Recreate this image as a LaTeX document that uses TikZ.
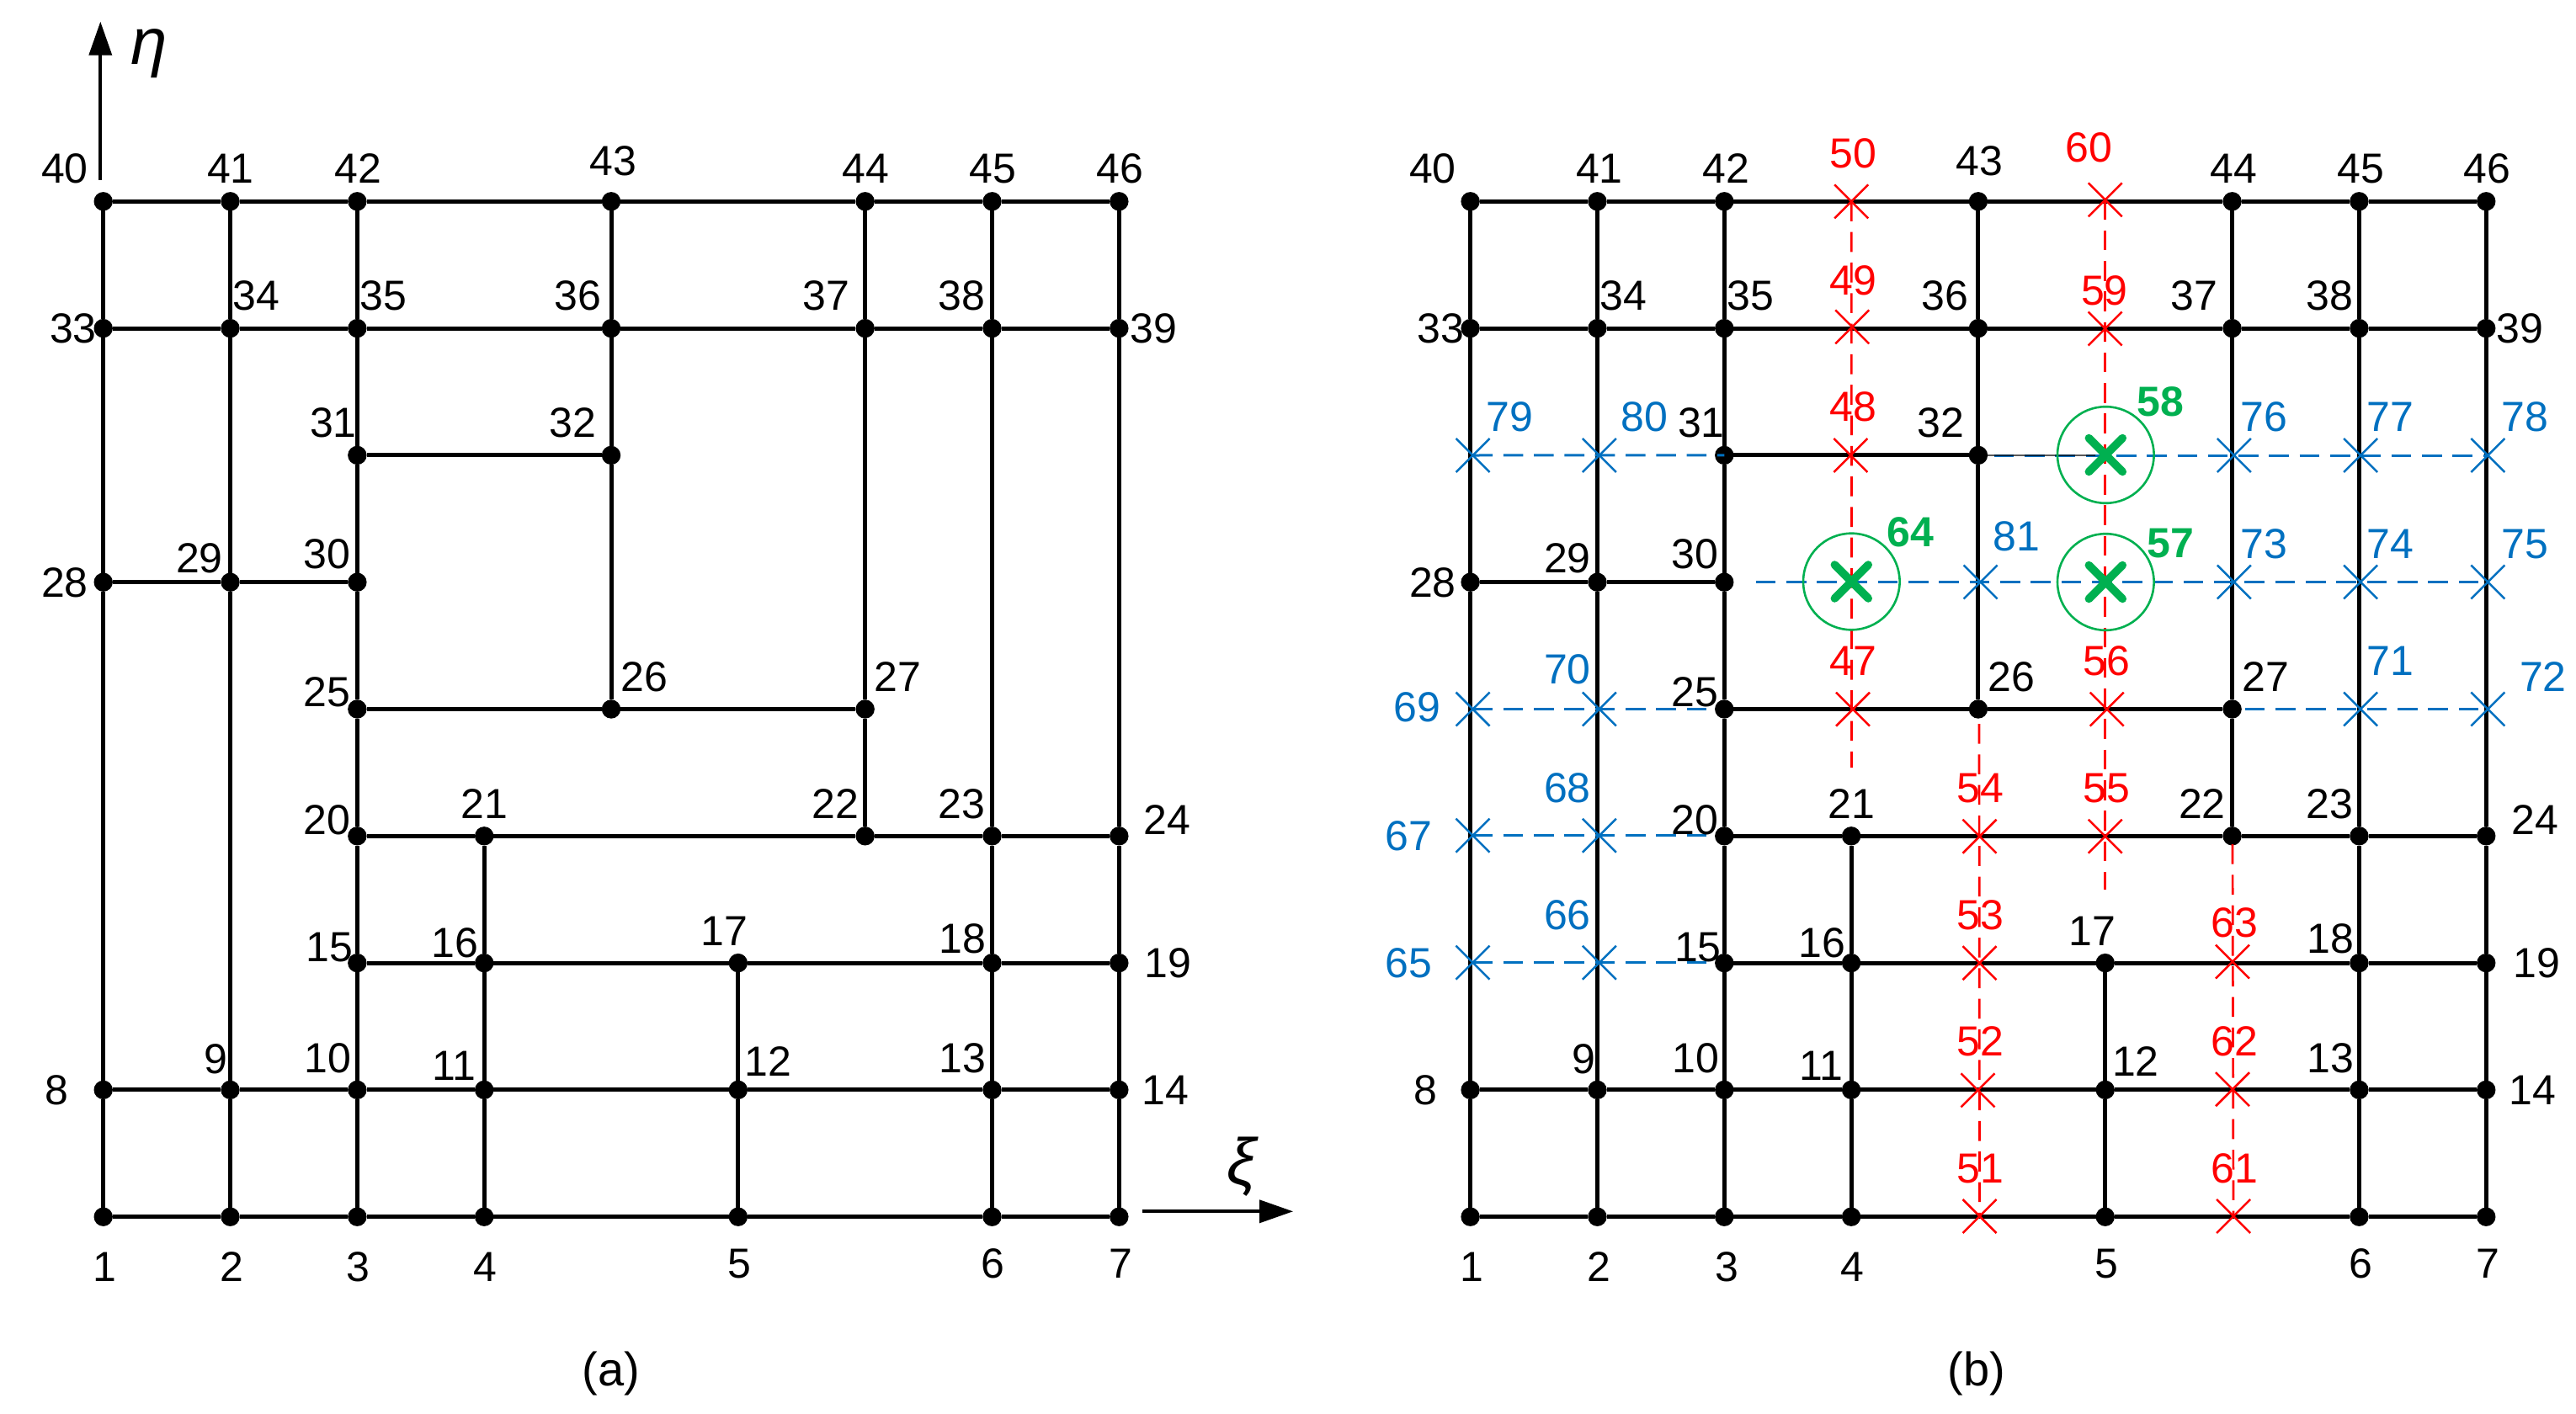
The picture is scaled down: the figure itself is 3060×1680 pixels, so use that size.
\documentclass[tikz,border=0pt]{standalone}
\usepackage{fontspec}
\setmainfont{Liberation Sans}
\usetikzlibrary{arrows.meta,shapes.misc}
\definecolor{nblue}{HTML}{0070C0}
\definecolor{ngreen}{HTML}{00B050}
\definecolor{nred}{HTML}{FF0000}
\tikzset{
  gridnode/.style={circle,fill=black,inner sep=0pt,outer sep=0pt,minimum size=22.4pt},
  edgeline/.style={draw=black,line width=5pt},
  thinline/.style={draw=black,line width=1.2pt},
  labtext/.style={font=\fontsize{50}{50}\selectfont,inner sep=0pt,outer sep=0pt,text height=36pt,text depth=0pt,anchor=center,xshift=2pt,yshift=-1.5pt},
  redlab/.style={labtext,text=nred},
  bluelab/.style={labtext,text=nblue},
  greenlab/.style={labtext,text=ngreen,font=\fontsize{50}{50}\selectfont\bfseries},
  capt/.style={font=\fontsize{56}{60}\selectfont,inner sep=0pt,outer sep=0pt,anchor=center},
  axlab/.style={font=\fontsize{78}{80}\selectfont\itshape,inner sep=0pt,outer sep=0pt,anchor=center},
  redcross/.style={cross out,draw=nred,line width=2.5pt,inner sep=0pt,outer sep=0pt,minimum size=40pt},
  bluecross/.style={cross out,draw=nblue,line width=2.5pt,inner sep=0pt,outer sep=0pt,minimum size=40pt},
  greencross/.style={cross out,draw=ngreen,line width=9.5pt,line cap=round,inner sep=0pt,outer sep=0pt,minimum size=40pt},
  greenring/.style={circle,draw=ngreen,line width=2.6pt,inner sep=0pt,outer sep=0pt,minimum size=114.6pt},
  reddash/.style={draw=nred,line width=2.7pt,dash pattern=on 23.6pt off 12.7pt},
  bluedash/.style={draw=nblue,line width=3pt,dash pattern=on 23.6pt off 12.7pt},
  axisarrow/.style={draw=black,line width=3.7pt,-{Triangle[length=40pt,width=27pt]}},
}
\begin{document}
\begin{tikzpicture}[x=1pt,y=-1pt]
\useasboundingbox (0,0) rectangle (3060,1680);
\fill[white] (0,0) rectangle (3060,1680);
% grid nodes and edges of both panels
\foreach \pp/\xx in {a/122.7,b/1746.6}{
  \foreach \nn/\cc/\rr in {1/0/8,2/1/8,3/2/8,4/3/8,5/5/8,6/7/8,7/8/8,
    8/0/7,9/1/7,10/2/7,11/3/7,12/5/7,13/7/7,14/8/7,
    15/2/6,16/3/6,17/5/6,18/7/6,19/8/6,
    20/2/5,21/3/5,22/6/5,23/7/5,24/8/5,
    25/2/4,26/4/4,27/6/4,
    28/0/3,29/1/3,30/2/3,
    31/2/2,32/4/2,
    33/0/1,34/1/1,35/2/1,36/4/1,37/6/1,38/7/1,39/8/1,
    40/0/0,41/1/0,42/2/0,43/4/0,44/6/0,45/7/0,46/8/0}{
    \node[gridnode] (\pp\nn) at ({\xx+150.83*\cc},{239.3+150.8*\rr}) {};
  }
  \draw[edgeline] (\pp1)--(\pp2)--(\pp3)--(\pp4)--(\pp5)--(\pp6)--(\pp7);
  \draw[edgeline] (\pp8)--(\pp9)--(\pp10)--(\pp11)--(\pp12)--(\pp13)--(\pp14);
  \draw[edgeline] (\pp15)--(\pp16)--(\pp17)--(\pp18)--(\pp19);
  \draw[edgeline] (\pp20)--(\pp21)--(\pp22)--(\pp23)--(\pp24);
  \draw[edgeline] (\pp25)--(\pp26)--(\pp27);
  \draw[edgeline] (\pp28)--(\pp29)--(\pp30);
  \draw[edgeline] (\pp31)--(\pp32);
  \draw[edgeline] (\pp33)--(\pp34)--(\pp35)--(\pp36)--(\pp37)--(\pp38)--(\pp39);
  \draw[edgeline] (\pp40)--(\pp41)--(\pp42)--(\pp43)--(\pp44)--(\pp45)--(\pp46);
  \draw[edgeline] (\pp1)--(\pp8)--(\pp28)--(\pp33)--(\pp40);
  \draw[edgeline] (\pp2)--(\pp9)--(\pp29)--(\pp34)--(\pp41);
  \draw[edgeline] (\pp3)--(\pp10)--(\pp15)--(\pp20)--(\pp25)--(\pp30)--(\pp31)--(\pp35)--(\pp42);
  \draw[edgeline] (\pp4)--(\pp11)--(\pp16)--(\pp21);
  \draw[edgeline] (\pp26)--(\pp32)--(\pp36)--(\pp43);
  \draw[edgeline] (\pp5)--(\pp12)--(\pp17);
  \draw[edgeline] (\pp22)--(\pp27)--(\pp37)--(\pp44);
  \draw[edgeline] (\pp6)--(\pp13)--(\pp18)--(\pp23)--(\pp38)--(\pp45);
  \draw[edgeline] (\pp7)--(\pp14)--(\pp19)--(\pp24)--(\pp39)--(\pp46);
}
% axes
\coordinate (etaS) at (119.3,214);
\coordinate (etaE) at (119.3,25.7);
\coordinate (xiS) at (1356.7,1439.3);
\coordinate (xiE) at (1536,1439.3);
\draw[axisarrow] (etaS)--(etaE);
\draw[axisarrow] (xiS)--(xiE);
\node[axlab] (etaL) at (177,63.5) {η};
\node[axlab] (xiL) at (1475,1386) {ξ};
% red and blue crosses
\foreach \nn/\X/\Y in {50/2199.3/239.4,60/2500.7/237.3,49/2200.2/388.3,59/2500.7/390.5,48/2198.3/541,
  47/2201/842.7,56/2502.7/842.7,54/2351.5/993.7,55/2500.7/993.7,53/2351.5/1144.2,63/2652/1142.6,
  52/2349.5/1295.3,62/2652/1294.2,51/2351.5/1445,61/2653/1445}{
  \node[redcross] (b\nn) at (\X,\Y) {};
}
\foreach \nn/\X/\Y in {79/1749.5/541,80/1899.8/541,76/2653.9/541,77/2804.1/541,78/2955.3/541,
  81/2352.5/691.5,73/2653.9/691.5,74/2804.1/691.5,75/2955.3/691.5,
  69/1749.5/842.5,70/1899.8/842.5,71/2804.1/842.5,72/2955.3/842.5,
  67/1749.5/992.7,68/1899.8/992.7,65/1749.5/1143.7,66/1899.8/1143.7}{
  \node[bluecross] (b\nn) at (\X,\Y) {};
}
% free ends of dashed connectors
\coordinate (redA) at (2199.5,912);
\coordinate (redB) at (2500.7,1057);
\coordinate (redC) at (2351,860);
\coordinate (redD) at (2652,1003);
\coordinate (bluA) at (2368.7,541);
\coordinate (bluB) at (2085.6,691.5);
\coordinate (bluC) at (2666.6,842.5);
\coordinate (bluD) at (2027.6,842.5);
\coordinate (bluE) at (2027.6,992.7);
\coordinate (bluF) at (2027.6,1143.7);
\coordinate (blkA) at (2489,541);
\draw[reddash] (b50.center)--(redA);
\draw[reddash] (b60.center)--(redB);
\draw[reddash] (redC)--(b51.center);
\draw[reddash] (redD)--(b61.center);
\draw[bluedash] (b79.center)--(b31.center);
\draw[bluedash] (bluA)--(b78.center);
\draw[thinline] (b32)--(blkA);
\draw[bluedash] (bluB)--(b75.center);
\draw[bluedash] (b69.center)--(bluD);
\draw[bluedash] (bluC)--(b72.center);
\draw[bluedash] (b67.center)--(bluE);
\draw[bluedash] (b65.center)--(bluF);
% green markers
\foreach \nn/\X/\Y in {58/2501.3/540.5,57/2501.3/691.5,64/2199.3/691}{
  \node[greenring] (r\nn) at (\X,\Y) {};
  \node[greencross] (b\nn) at (\X,\Y) {};
}
% black labels, panel a
\foreach \nn/\X/\Y in {40/75/198,41/272/198,42/423.4/198,43/726/189,44/1026.3/198,45/1177.6/198,46/1328/198,
  34/302.4/349,35/453.7/349,36/684/349,37/979.5/349,38/1140.5/349,33/85/388,39/1368/388,
  31/394/500,32/678/500,29/235/661,30/386.3/656,28/75/690,25/386.3/819.5,26/763/802,27/1064.4/802,
  20/386.3/971.8,21/573.7/953,22/990/953,23/1140.5/953,24/1384.4/971.8,
  15/389.3/1122.8,16/538.5/1118,17/858.5/1103.5,18/1141.5/1113,19/1385.4/1141.6,
  9/254.6/1255.6,10/387.3/1254.6,11/537.6/1263.7,12/910.2/1258.9,13/1141.5/1254.6,14/1382.4/1292.6,8/65.4/1292.6,
  1/122/1503,2/273.3/1503,3/423.4/1503,4/574.6/1503,5/876/1499.3,6/1177.6/1499.3,7/1329/1499.3}{
  \node[labtext] (la\nn) at (\X,\Y) {\nn};
}
% black labels, panel b
\foreach \nn/\X/\Y in {40/1699.8/198,41/1897.9/198,42/2048/198,43/2349.5/189,44/2651/198,45/2802.2/198,46/2952.4/198,
  34/1926/349,35/2077.3/349,36/2308.5/349,37/2604.1/349,38/2765/349,33/1709.5/388,39/2991.5/388,
  31/2018.8/500,32/2303.7/500,29/1859.8/661,30/2011/656,28/1699.8/690,25/2011/819.5,26/2387.6/802,27/2689/802,
  20/2011/971.8,21/2197.3/953,22/2613.9/953,23/2765/953,24/3009/971.8,
  15/2014.9/1122.8,16/2162.2/1118,17/2483.2/1103.5,18/2766/1113,19/3011/1141.6,
  9/1879.3/1255.6,10/2012/1254.6,11/2161.2/1263.7,12/2534.9/1258.9,13/2766/1254.6,14/3006/1292.6,8/1691/1292.6,
  1/1746.6/1503,2/1897.8/1503,3/2049/1503,4/2198.3/1503,5/2500.7/1499.3,6/2802.2/1499.3,7/2953.4/1499.3}{
  \node[labtext] (lb\nn) at (\X,\Y) {\nn};
}
% red labels
\foreach \nn/\X/\Y in {50/2199.3/180,60/2479.3/173.5,49/2199.3/330.5,59/2497.8/343.3,48/2199.3/481,47/2199.3/783,56/2500.7/783,
  54/2350.5/934.3,55/2500.7/934.3,53/2350.5/1085.3,63/2652/1094.4,52/2350.5/1235.3,62/2652/1235.3,51/2350.5/1386.3,61/2652/1386.3}{
  \node[redlab] (lb\nn) at (\X,\Y) {\nn};
}
% blue labels
\foreach \nn/\X/\Y in {79/1791.5/493.3,80/1951.5/493.3,76/2687/493.3,77/2837.3/493.3,78/2997.3/493.3,
  81/2393.4/635.3,73/2687/644.3,74/2837.3/644.3,75/2997.3/644.3,
  70/1859.8/792.7,71/2837.3/783,72/3018.8/802,69/1681.2/838,68/1859.8/934.3,67/1671.5/990.5,66/1859.8/1085.3,65/1671.5/1141.6}{
  \node[bluelab] (lb\nn) at (\X,\Y) {\nn};
}
% green labels
\node[greenlab] (lb58) at (2564.3,475) {58};
\node[greenlab] (lb57) at (2576,642.7) {57};
\node[greenlab] (lb64) at (2267.6,630.4) {64};
% captions
\node[capt] (capa) at (725.9,1631.5) {(a)};
\node[capt] (capb) at (2347.6,1631.5) {(b)};
\end{tikzpicture}
\end{document}
